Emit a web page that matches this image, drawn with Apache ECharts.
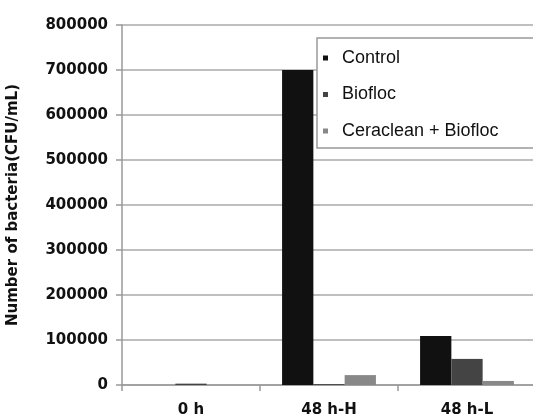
<!DOCTYPE html>
<html>
<head>
<meta charset="utf-8">
<script src="https://cdn.jsdelivr.net/npm/echarts@6/dist/echarts.min.js"></script>
<style>
  html, body { margin: 0; padding: 0; background: #fff; }
  #chart { width: 533px; height: 417px; }
</style>
</head>
<body>
<div id="chart"></div>
<script>
// categories / series
var categories = ["0 h", "48 h-H", "48 h-L"];
var seriesNames = ["Control", "Biofloc", "Ceraclean + Biofloc"];
var controlData = [0, 700000, 109000];
var bioflocData = [3000, 2000, 58000];
var ceracleanData = [0, 22000, 9000];
var seriesColors = ["#111111", "#444444", "#888888"];

var chart = echarts.init(document.getElementById("chart"));

function bar(name, data, color) {
    return {
        name: name,
        type: "bar",
        data: data,
        barGap: "0%",
        barCategoryGap: "32%",
        itemStyle: { color: color }
    };
}

var boldFont = "DejaVu Sans, Arial, sans-serif";

var option = {
    animation: false,
    backgroundColor: "#fff",
    textStyle: { fontFamily: "Liberation Sans, Arial, sans-serif" },
    grid: { left: 122, top: 25, bottom: 32, width: 414, outerBoundsMode: "none" },
    legend: {
        orient: "vertical",
        left: 317,
        top: 38,
        padding: [11, 60, 8, 6],
        itemGap: 18.5,
        itemWidth: 5,
        itemHeight: 5,
        icon: "rect",
        borderColor: "#999",
        borderWidth: 1.5,
        backgroundColor: "#fff",
        textStyle: { fontSize: 18, color: "#111", padding: [0, 0, 0, 9] },
        data: seriesNames
    },
    xAxis: {
        type: "category",
        data: categories,
        axisLine: { lineStyle: { color: "#999", width: 1.5 } },
        axisTick: { show: true, length: 6, lineStyle: { color: "#999", width: 1.5 } },
        axisLabel: { fontSize: 15, fontWeight: "bold", fontFamily: boldFont, color: "#111", margin: 18 }
    },
    yAxis: {
        type: "value",
        min: 0,
        max: 800000,
        interval: 100000,
        name: "Number of bacteria(CFU/mL)",
        nameLocation: "middle",
        nameGap: 101,
        nameTextStyle: { fontSize: 15, fontWeight: "bold", fontFamily: boldFont, color: "#111" },
        axisLine: { show: true, lineStyle: { color: "#999", width: 1.5 } },
        axisTick: { show: true, length: 6, lineStyle: { color: "#999", width: 1.5 } },
        axisLabel: {
            fontSize: 15, fontWeight: "bold", fontFamily: boldFont, color: "#111", margin: 14,
            formatter: function (v) { return String(v); }
        },
        splitLine: { lineStyle: { color: "#aaa", width: 1.5 } }
    },
    series: [
        bar(seriesNames[0], controlData, seriesColors[0]),
        bar(seriesNames[1], bioflocData, seriesColors[1]),
        bar(seriesNames[2], ceracleanData, seriesColors[2])
    ]
};

chart.setOption(option);
</script>
</body>
</html>
